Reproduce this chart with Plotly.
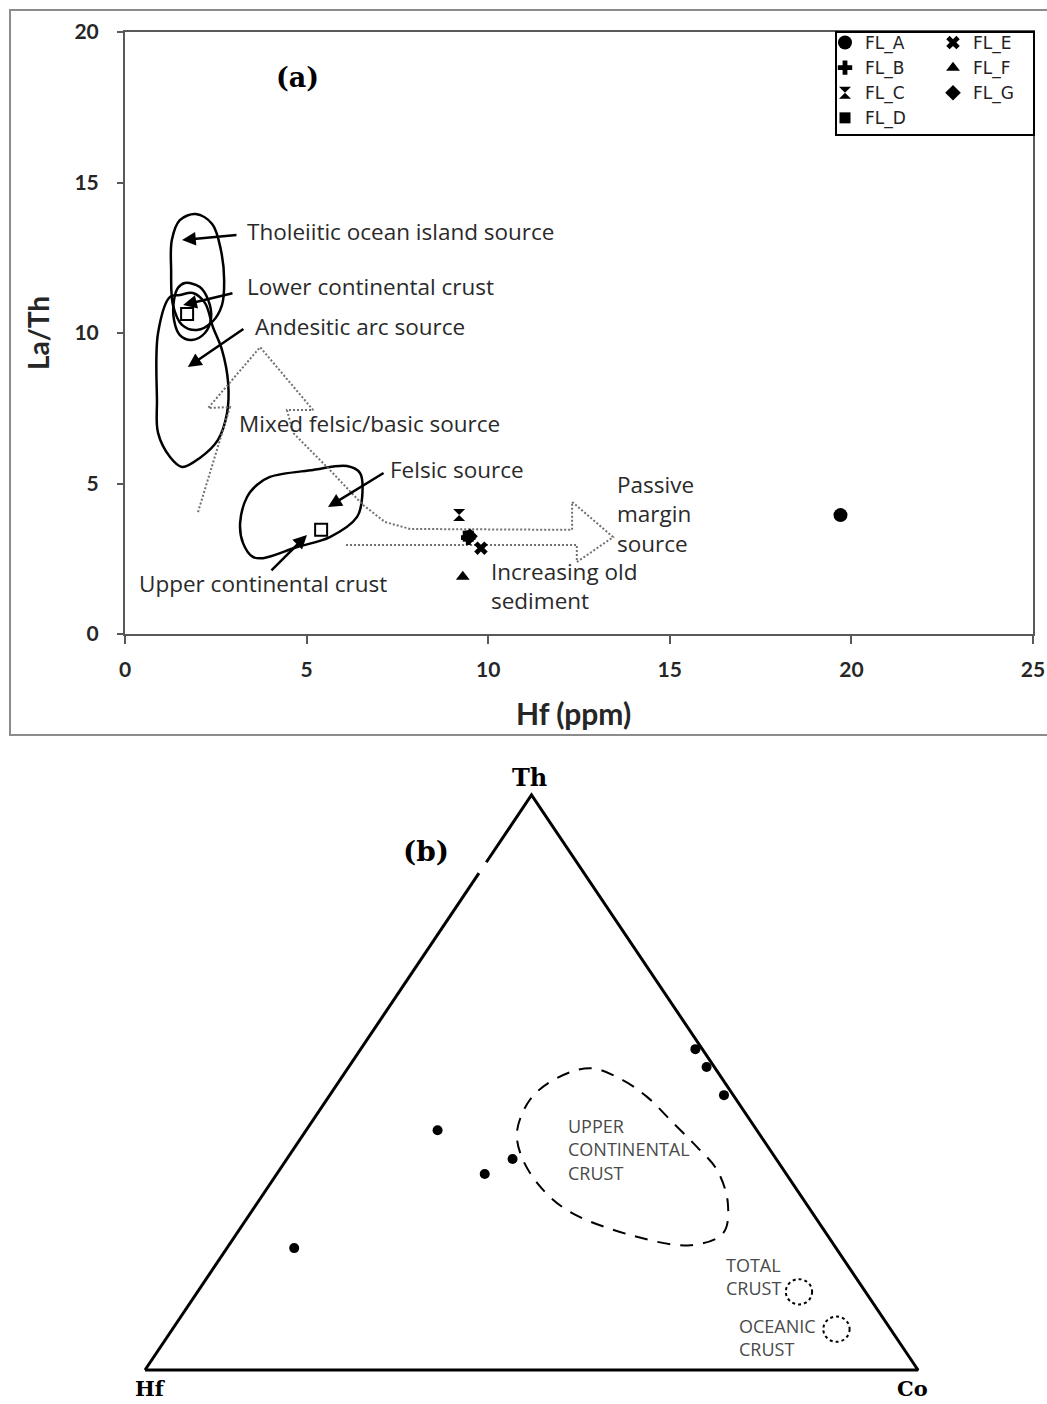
import plotly.graph_objects as go

FIG_W, FIG_H = 1047, 1404

# ---------------- panel (a): La/Th versus Hf ----------------
sample_names = ["FL_A", "FL_B", "FL_C", "FL_D", "FL_E", "FL_F", "FL_G"]
sample_symbols = ["circle", "cross", "hourglass", "square", "x", "triangle-up", "diamond"]
sample_sizes = [14, 12, 12, 11, 12, 12, 12]
hf_ppm = [19.7, 9.45, 9.2, 9.45, 9.8, 9.3, 9.5]
la_th = [3.95, 3.2, 3.95, 3.25, 2.85, 1.9, 3.25]
legend_of = ["legend", "legend", "legend", "legend", "legend2", "legend2", "legend2"]

# provenance fields (Hf ppm, La/Th)
tholeiitic_hf = [1.95, 2.40, 2.64, 2.73, 2.67, 2.40, 1.98, 1.57, 1.32, 1.27, 1.29, 1.51]
tholeiitic_lath = [13.95, 13.62, 12.76, 11.76, 10.93, 10.37, 10.10, 10.27, 10.93, 12.09, 13.09, 13.75]
lower_cc_hf = [1.65, 2.06, 2.29, 2.37, 2.20, 1.84, 1.51, 1.35, 1.35, 1.46]
lower_cc_lath = [11.66, 11.53, 11.10, 10.50, 10.00, 9.77, 9.93, 10.43, 11.10, 11.50]
andesitic_hf = [1.24, 0.91, 0.88, 0.91, 1.24, 1.57, 2.06, 2.56, 2.81, 2.84, 2.67, 2.42, 2.20, 1.87, 1.51]
andesitic_lath = [11.20, 10.00, 7.77, 6.68, 5.88, 5.55, 5.85, 6.45, 7.34, 8.34, 9.44, 10.20, 11.00, 11.33, 11.26]
felsic_hf = [3.99, 5.18, 6.11, 6.47, 6.53, 6.39, 5.64, 4.74, 3.80, 3.52, 3.25, 3.17, 3.36, 3.63]
felsic_lath = [5.22, 5.45, 5.58, 5.35, 4.55, 3.89, 3.22, 2.89, 2.52, 2.56, 3.02, 3.69, 4.55, 4.95]

# reference compositions (open squares)
ref_names = ["Lower continental crust", "Upper continental crust"]
ref_hf = [1.71, 5.40]
ref_lath = [10.63, 3.46]

# dotted trend arrows (mixed source -> passive margin)
trend_hf = [2.01, 2.89, 2.29, 3.72, 5.18, 4.46, 4.63, 5.64, 6.55, 7.16, 7.85, 12.31, 12.31,
            13.44, 12.44, 12.44, 6.06]
trend_lath = [4.05, 7.54, 7.51, 9.53, 7.44, 7.44, 6.68, 5.45, 4.29, 3.72, 3.49, 3.46, 4.39,
              3.22, 2.39, 2.96, 2.96]

# pointer arrows: (head Hf, head La/Th, tail Hf, tail La/Th)
pointer_arrows = [
    (1.57, 13.09, 3.11, 13.26),
    (1.60, 10.93, 3.00, 11.33),
    (1.73, 8.87, 3.30, 10.17),
    (5.59, 4.22, 7.16, 5.38),
    (5.01, 3.29, 3.99, 2.06),
]

# field labels: (text, Hf, La/Th)
field_labels = [
    ("Tholeiitic ocean island source", 3.30, 13.36),
    ("Lower continental crust", 3.30, 11.56),
    ("Andesitic arc source", 3.52, 10.20),
    ("Mixed felsic/basic source", 3.08, 6.98),
    ("Felsic source", 7.24, 5.48),
    ("Upper continental crust", 0.33, 1.69),
    ("Passive<br>margin<br>source", 13.49, 3.99),
    ("Increasing old<br>sediment", 10.02, 1.59),
]

# ---------------- panel (b): Th-Hf-Co ternary ----------------
tern_th = [55.8, 52.7, 47.8, 41.7, 36.7, 34.1, 21.2]
tern_hf = [0.9, 1.0, 1.2, 41.3, 34.1, 39.0, 70.1]
tern_co = [43.3, 46.3, 51.0, 17.0, 29.2, 26.9, 8.7]

ucc_th = [52.5, 50.4, 47.5, 43.0, 38.8, 34.8, 29.0, 23.8, 21.7, 23.5, 27.8, 32.5, 37.7, 41.7, 47.0, 50.4]
ucc_co = [31.3, 36.6, 41.2, 46.8, 52.0, 56.6, 60.9, 62.9, 59.7, 51.0, 40.7, 34.5, 29.7, 27.3, 26.3, 27.6]

# small crustal fields: (Th, Co) centres
total_crust = (13.6, 77.8)
oceanic_crust = (7.1, 85.9)


def px_x(p):
    return p / FIG_W


def px_y(p):
    return 1 - p / FIG_H


def tern_to_xy(th, hf, co):
    s = th + hf + co
    t, c = th / s, co / s
    return c + t / 2, t


def closed(seq):
    return list(seq) + [seq[0]]


fig = go.Figure()

# field outlines
for fx, fy in [(tholeiitic_hf, tholeiitic_lath), (lower_cc_hf, lower_cc_lath),
               (andesitic_hf, andesitic_lath), (felsic_hf, felsic_lath)]:
    fig.add_trace(go.Scatter(
        x=closed(fx), y=closed(fy), mode="lines",
        line=dict(color="black", width=2.5, shape="spline", smoothing=1.0),
        showlegend=False, hoverinfo="skip"))

fig.add_trace(go.Scatter(
    x=trend_hf, y=trend_lath, mode="lines",
    line=dict(color="#707070", width=2, dash="2px,2px"),
    showlegend=False, hoverinfo="skip"))

fig.add_trace(go.Scatter(
    x=ref_hf, y=ref_lath, mode="markers", text=ref_names,
    marker=dict(symbol="square-open", size=12, color="black", line=dict(width=2)),
    showlegend=False, hoverinfo="text"))

for name, sym, size, hx, ly, lg in zip(sample_names, sample_symbols, sample_sizes,
                                       hf_ppm, la_th, legend_of):
    fig.add_trace(go.Scatter(
        x=[hx], y=[ly], mode="markers", name=name, legend=lg,
        marker=dict(symbol=sym, size=size, color="black", line=dict(width=0))))

# ternary frame with its small break on the Hf-Th edge
frame_pts = [(0, 100, 0), (86.4, 13.6, 0), None, (88.3, 11.7, 0), (100, 0, 0),
             (0, 0, 100), (0, 100, 0)]
fx, fy = [], []
for p in frame_pts:
    if p is None:
        fx.append(None)
        fy.append(None)
    else:
        x, y = tern_to_xy(*p)
        fx.append(x)
        fy.append(y)
fig.add_trace(go.Scatter(x=fx, y=fy, mode="lines", xaxis="x2", yaxis="y2",
                         line=dict(color="black", width=3), showlegend=False,
                         hoverinfo="skip"))

ux, uy = [], []
for t, c in zip(closed(ucc_th), closed(ucc_co)):
    x, y = tern_to_xy(t, 100 - t - c, c)
    ux.append(x)
    uy.append(y)
fig.add_trace(go.Scatter(x=ux, y=uy, mode="lines", xaxis="x2", yaxis="y2",
                         line=dict(color="black", width=2, dash="13px,10px",
                                   shape="spline", smoothing=1.0),
                         showlegend=False, hoverinfo="skip"))

tx, ty = [], []
for t, h, c in zip(tern_th, tern_hf, tern_co):
    x, y = tern_to_xy(t, h, c)
    tx.append(x)
    ty.append(y)
fig.add_trace(go.Scatter(x=tx, y=ty, mode="markers", xaxis="x2", yaxis="y2",
                         marker=dict(symbol="circle", size=10, color="black"),
                         showlegend=False, cliponaxis=False))

shapes = []
for t, c in [total_crust, oceanic_crust]:
    cx, cy = tern_to_xy(t, 100 - t - c, c)
    rx, ry = 0.017, 0.022
    shapes.append(dict(type="circle", xref="x2", yref="y2",
                       x0=cx - rx, x1=cx + rx, y0=cy - ry, y1=cy + ry,
                       line=dict(color="black", width=2, dash="dot")))

# outer frame of panel (a) and legend box
shapes.append(dict(type="rect", xref="paper", yref="paper",
                   x0=px_x(10), x1=1.02, y0=px_y(735), y1=px_y(10),
                   line=dict(color="#8c8c8c", width=2)))
shapes.append(dict(type="rect", xref="paper", yref="paper",
                   x0=px_x(836), x1=px_x(1034), y0=px_y(135), y1=px_y(32),
                   line=dict(color="black", width=2)))

text_font = dict(family="Open Sans", size=22.5, color="#2a2a2a")
annotations = []
for hx, hy, tx_, ty_ in pointer_arrows:
    annotations.append(dict(x=hx, y=hy, ax=tx_, ay=ty_, xref="x", yref="y",
                            axref="x", ayref="y", text="", showarrow=True,
                            arrowhead=2, arrowsize=1.1, arrowwidth=2.5,
                            arrowcolor="black", standoff=0, startstandoff=0))
for txt, lx, ly in field_labels:
    annotations.append(dict(x=lx, y=ly, xref="x", yref="y", text=txt,
                            showarrow=False, xanchor="left", yanchor="middle",
                            align="left", font=text_font))
annotations.append(dict(x=4.74, y=18.5, xref="x", yref="y", text="<b>(a)</b>",
                        showarrow=False, xanchor="center", yanchor="middle",
                        font=dict(family="DejaVu Serif", size=27, color="black")))
annotations.append(dict(x=px_x(573), y=px_y(713), xref="paper", yref="paper",
                        text="Hf (ppm)", showarrow=False, xanchor="center", yanchor="middle",
                        font=dict(family="Lato", size=30, color="#262626", weight="bold")))
annotations.append(dict(x=px_x(38), y=px_y(333), xref="paper", yref="paper",
                        text="La/Th", showarrow=False, textangle=-90,
                        xanchor="center", yanchor="middle",
                        font=dict(family="Lato", size=28, color="#262626", weight="bold")))

serif = dict(family="DejaVu Serif", size=24, color="black")
corner_font = dict(family="DejaVu Serif", size=21, color="black")
annotations += [
    dict(x=0.498, y=1.03, xref="x2", yref="y2", text="<b>Th</b>", showarrow=False,
         xanchor="center", yanchor="middle", font=serif),
    dict(x=0.007, y=-0.033, xref="x2", yref="y2", text="<b>Hf</b>", showarrow=False,
         xanchor="center", yanchor="middle", font=corner_font),
    dict(x=0.993, y=-0.033, xref="x2", yref="y2", text="<b>Co</b>", showarrow=False,
         xanchor="center", yanchor="middle", font=corner_font),
    dict(x=0.364, y=0.901, xref="x2", yref="y2", text="<b>(b)</b>", showarrow=False,
         xanchor="center", yanchor="middle",
         font=dict(family="DejaVu Serif", size=28, color="black")),
    dict(x=0.545, y=0.383, xref="x2", yref="y2", text="UPPER<br>CONTINENTAL<br>CRUST",
         showarrow=False, xanchor="left", yanchor="middle", align="left",
         font=dict(family="Open Sans", size=18, color="#4a4a4a")),
    dict(x=0.749, y=0.163, xref="x2", yref="y2", text="TOTAL<br>CRUST",
         showarrow=False, xanchor="left", yanchor="middle", align="left",
         font=dict(family="Open Sans", size=18, color="#4a4a4a")),
    dict(x=0.766, y=0.0574, xref="x2", yref="y2", text="OCEANIC<br>CRUST",
         showarrow=False, xanchor="left", yanchor="middle", align="left",
         font=dict(family="Open Sans", size=18, color="#4a4a4a")),
]

pad = 0.05
tri_l, tri_r, tri_base, tri_apex = 145, 918, 1370, 795
tw, th_ = tri_r - tri_l, tri_base - tri_apex

axis_common = dict(showgrid=False, zeroline=False, showline=True, linecolor="#595959",
                   linewidth=2, mirror=True, ticks="outside", tickcolor="#595959",
                   tickwidth=2, tickfont=dict(family="Lato", size=21, color="#262626",
                                              weight="bold"))

legend_common = dict(orientation="v", xanchor="left", yanchor="top", bgcolor="rgba(0,0,0,0)",
                     borderwidth=0, font=dict(family="DejaVu Sans", size=17, color="#222222"),
                     itemclick=False, itemdoubleclick=False, tracegroupgap=0)

fig.update_layout(
    width=FIG_W, height=FIG_H,
    margin=dict(l=0, r=0, t=0, b=0, autoexpand=False),
    paper_bgcolor="white", plot_bgcolor="white",
    xaxis=dict(domain=[px_x(125), px_x(1033)], range=[0, 25], tickvals=[0, 5, 10, 15, 20, 25],
               ticklen=8, ticklabelstandoff=8, anchor="y", **axis_common),
    yaxis=dict(domain=[px_y(634), px_y(32)], range=[0, 20], tickvals=[0, 5, 10, 15, 20],
               ticklen=6, ticklabelstandoff=14, anchor="x", **axis_common),
    xaxis2=dict(domain=[(tri_l - pad * tw) / FIG_W, (tri_r + pad * tw) / FIG_W],
                range=[-pad, 1 + pad], visible=False, anchor="y2"),
    yaxis2=dict(domain=[1 - (tri_base + pad * th_) / FIG_H, 1 - (tri_apex - pad * th_) / FIG_H],
                range=[-pad, 1 + pad], visible=False, anchor="x2"),
    legend=dict(x=px_x(825), y=px_y(25), **legend_common),
    legend2=dict(x=px_x(933), y=px_y(25), **legend_common),
    shapes=shapes, annotations=annotations,
)

fig.write_html("out.html")
